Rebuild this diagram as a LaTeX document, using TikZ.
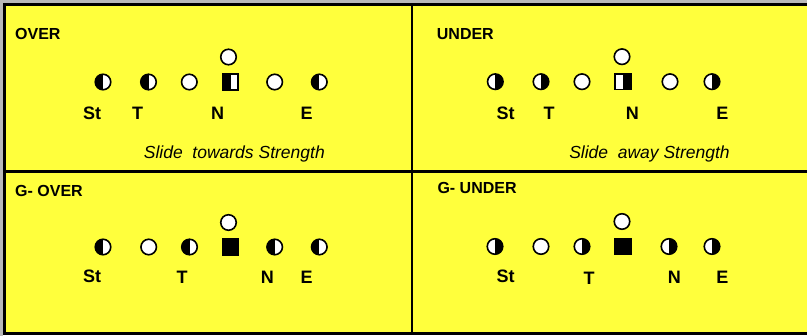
\documentclass[tikz,border=0pt]{standalone}
\usepackage{fontspec}
\setmainfont{Liberation Sans}
\definecolor{yel}{RGB}{255,255,60}
\begin{document}
\begin{tikzpicture}[x=1pt,y=-1pt,
  player/.style={circle, draw=black, line width=1.6pt, fill=white, minimum size=15.5pt, inner sep=0pt},
  halfL/.style={player, path picture={\fill[black] (path picture bounding box.north west) rectangle (path picture bounding box.south);}},
  halfR/.style={player, path picture={\fill[black] (path picture bounding box.north) rectangle (path picture bounding box.south east);}},
  sq/.style={rectangle, draw=black, line width=1.6pt, fill=white, minimum size=15.5pt, inner sep=0pt},
  sqL/.style={sq, path picture={\fill[black] (path picture bounding box.north west) rectangle (path picture bounding box.south);}},
  sqR/.style={sq, path picture={\fill[black] (path picture bounding box.north) rectangle (path picture bounding box.south east);}},
  sqF/.style={sq, fill=black},
  lbl/.style={anchor=base, inner sep=0pt, font=\fontsize{18}{20}\selectfont\bfseries},
  ttl/.style={anchor=base west, inner sep=0pt, font=\fontsize{16}{18}\selectfont\bfseries},
  note/.style={anchor=base, inner sep=0pt, font=\fontsize{17.5}{20}\selectfont\itshape},
  frame/.style={line width=3pt, black}
]
\useasboundingbox (0,0) rectangle (807,336);
\fill[white] (0,0) rectangle (807,336);
\fill[yel] (6,6) rectangle (807,333);
\draw[gray!55, line width=3pt] (1.5,336) -- (1.5,1.5) -- (807,1.5);
\draw[frame] (807,4.5) -- (4.5,4.5) -- (4.5,333.5) -- (807,333.5);
\draw[line width=2.5pt] (412,6) -- (412,333);
\draw[line width=2.5pt] (6,171.5) -- (807,171.5);

% ---------- OVER ----------
\node[ttl] (t1) at (15,40) {OVER};
\node[player] (a0) at (228.5,57) {};
\node[halfL]  (a1) at (103,82) {};
\node[halfL]  (a2) at (148.5,82) {};
\node[player] (a3) at (189.3,82) {};
\node[sqL]    (a4) at (230.5,82) {};
\node[player] (a5) at (274.7,82) {};
\node[halfL]  (a6) at (319.3,82) {};
\node[lbl] (al1) at (92,119.5) {St};
\node[lbl] (al2) at (137.5,119.5) {T};
\node[lbl] (al3) at (217.5,119.5) {N};
\node[lbl] (al4) at (306.7,119.5) {E};
\node[note] (an) at (234.3,159) {Slide~~towards Strength};

% ---------- UNDER ----------
\node[ttl] (t2) at (436.7,40) {UNDER};
\node[player] (b0) at (622,56.7) {};
\node[halfR]  (b1) at (495.3,81.7) {};
\node[halfR]  (b2) at (541,81.7) {};
\node[player] (b3) at (582,81.7) {};
\node[sqR]    (b4) at (623,81.7) {};
\node[player] (b5) at (670,81.7) {};
\node[halfR]  (b6) at (712,81.7) {};
\node[lbl] (bl1) at (505.7,120) {St};
\node[lbl] (bl2) at (549,120) {T};
\node[lbl] (bl3) at (632.3,120) {N};
\node[lbl] (bl4) at (722.3,120) {E};
\node[note] (bn) at (649.5,159) {Slide~~away Strength};

% ---------- G- OVER ----------
\node[ttl] (t3) at (15,196.5) {G- OVER};
\node[player] (c0) at (228.5,222.5) {};
\node[halfL]  (c1) at (103,247) {};
\node[player] (c2) at (148.7,247) {};
\node[halfL]  (c3) at (189.5,247) {};
\node[sqF]    (c4) at (230.7,247) {};
\node[halfL]  (c5) at (274.7,247) {};
\node[halfL]  (c6) at (319.3,247) {};
\node[lbl] (cl1) at (92,282.3) {St};
\node[lbl] (cl2) at (182,284) {T};
\node[lbl] (cl3) at (267.3,284) {N};
\node[lbl] (cl4) at (306.7,284) {E};

% ---------- G- UNDER ----------
\node[ttl] (t4) at (437.3,193.3) {G- UNDER};
\node[player] (d0) at (622,221.5) {};
\node[halfR]  (d1) at (495,246.5) {};
\node[player] (d2) at (541,246.5) {};
\node[halfR]  (d3) at (582,246.5) {};
\node[sqF]    (d4) at (623,246.5) {};
\node[halfR]  (d5) at (669,246.5) {};
\node[halfR]  (d6) at (712,246.5) {};
\node[lbl] (dl1) at (505.7,282.3) {St};
\node[lbl] (dl2) at (589,285) {T};
\node[lbl] (dl3) at (674.3,284) {N};
\node[lbl] (dl4) at (722.3,284) {E};
\end{tikzpicture}
\end{document}
